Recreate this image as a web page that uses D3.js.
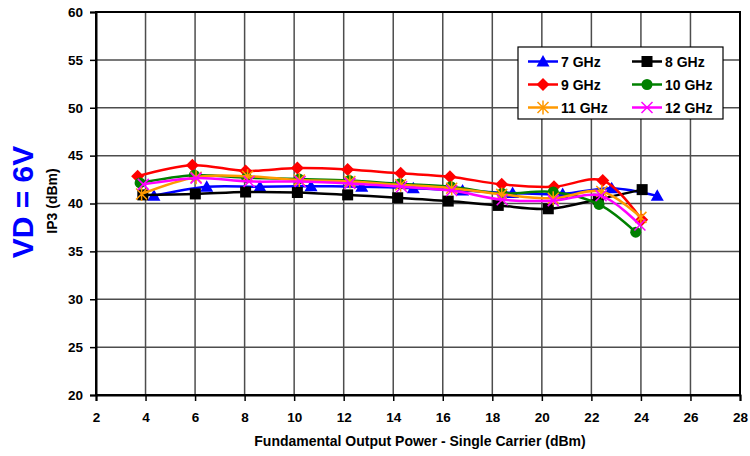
<!DOCTYPE html>
<html>
<head>
<meta charset="utf-8">
<script src="https://cdn.jsdelivr.net/npm/d3@7"></script>
<style>
  body { margin: 0; background: #fff; }
  svg { font-family: "Liberation Sans", Arial, sans-serif; font-weight: bold; }
</style>
</head>
<body>
<svg id="chart" width="750" height="456"></svg>
<script>
// values
const xTicks = [2, 4, 6, 8, 10, 12, 14, 16, 18, 20, 22, 24, 26, 28]
const yTicks = [20, 25, 30, 35, 40, 45, 50, 55, 60]

const ghz7 = [[4.34, 40.8], [6.47, 41.75], [8.62, 41.75], [10.68, 41.8], [12.73, 41.75], [14.81, 41.6], [16.8, 41.35], [18.82, 41.1], [20.84, 41.0], [22.82, 41.6], [24.66, 40.8]]
const ghz8 = [[3.89, 40.9], [6.01, 41.0], [8.04, 41.2], [10.13, 41.15], [12.16, 40.9], [14.18, 40.6], [16.22, 40.25], [18.24, 39.8], [20.26, 39.45], [22.28, 40.45], [24.05, 41.45]]
const ghz9 = [[3.68, 42.85], [5.89, 44.0], [8.04, 43.4], [10.13, 43.7], [12.16, 43.55], [14.3, 43.15], [16.29, 42.8], [18.38, 42.0], [20.49, 41.75], [22.46, 42.4], [24.03, 38.3]]
const ghz10 = [[3.78, 42.15], [5.97, 42.95], [8.08, 42.7], [10.2, 42.55], [12.23, 42.4], [14.27, 42.05], [16.33, 41.75], [18.4, 41.05], [20.46, 41.2], [22.31, 39.9], [23.79, 37.0]]
const ghz11 = [[3.84, 41.0], [6.04, 42.75], [8.12, 42.85], [10.21, 42.45], [12.25, 42.3], [14.3, 41.95], [16.36, 41.6], [18.38, 40.95], [20.46, 40.55], [22.42, 41.25], [24.0, 38.55]]
const ghz12 = [[3.91, 42.0], [6.04, 42.65], [8.18, 42.3], [10.24, 42.3], [12.25, 42.1], [14.34, 41.75], [16.36, 41.35], [18.4, 40.4], [20.46, 40.3], [22.39, 40.8], [23.96, 37.75]]

const series = [
  { name: '7 GHz', data: ghz7, color: '#0000ff', marker: 'triangle' },
  { name: '8 GHz', data: ghz8, color: '#000000', marker: 'square' },
  { name: '9 GHz', data: ghz9, color: '#ff0000', marker: 'diamond' },
  { name: '10 GHz', data: ghz10, color: '#008000', marker: 'circle' },
  { name: '11 GHz', data: ghz11, color: '#ff9900', marker: 'asterisk' },
  { name: '12 GHz', data: ghz12, color: '#ff00ff', marker: 'cross' }
]

const svg = d3.select('#chart')
const plotLeft = 96, plotRight = 740, plotTop = 12, plotBottom = 395

const x = d3.scaleLinear().domain([2, 28]).range([plotLeft, plotRight])
const y = d3.scaleLinear().domain([20, 60]).range([plotBottom, plotTop])

// grid
svg.append('g').selectAll('line')
  .data(xTicks.slice(1))
  .enter().append('line')
  .attr('x1', (d)=> x(d)).attr('x2', (d)=> x(d))
  .attr('y1', plotTop).attr('y2', plotBottom)
  .attr('stroke', '#4d4d4d').attr('stroke-width', 1.5)

svg.append('g').selectAll('line')
  .data(yTicks.slice(1))
  .enter().append('line')
  .attr('x1', plotLeft).attr('x2', plotRight)
  .attr('y1', (d)=> y(d)).attr('y2', (d)=> y(d))
  .attr('stroke', '#4d4d4d').attr('stroke-width', 1.5)

svg.append('rect')
  .attr('x', plotLeft).attr('y', plotTop)
  .attr('width', plotRight - plotLeft).attr('height', plotBottom - plotTop)
  .attr('fill', 'none').attr('stroke', '#000').attr('stroke-width', 2)

// axes
const xAxis = svg.append('g')
  .attr('transform', `translate(0,${plotBottom})`)
  .call(d3.axisBottom(x).tickValues(xTicks).tickSize(6).tickPadding(11))
const yAxis = svg.append('g')
  .attr('transform', `translate(${plotLeft},0)`)
  .call(d3.axisLeft(y).tickValues(yTicks).tickSize(6).tickPadding(7))

;[xAxis, yAxis].forEach((a)=> {
  a.select('.domain').attr('stroke', '#000').attr('stroke-width', 2)
  a.selectAll('.tick line').attr('stroke', '#000').attr('stroke-width', 1.5)
  a.selectAll('.tick text')
    .attr('fill', '#000')
    .style('font-size', '13.5px')
    .style('font-family', '"Liberation Sans", Arial, sans-serif')
    .style('font-weight', 'bold')
})

// titles
svg.append('text')
  .attr('x', 420).attr('y', 446)
  .attr('text-anchor', 'middle')
  .style('font-size', '14px')
  .text('Fundamental Output Power - Single Carrier (dBm)')

svg.append('text')
  .attr('transform', 'translate(57,201) rotate(-90)')
  .attr('text-anchor', 'middle')
  .style('font-size', '14px')
  .text('IP3 (dBm)')

svg.append('text')
  .attr('transform', 'translate(33,202) rotate(-90)')
  .attr('text-anchor', 'middle')
  .attr('fill', '#0000ff')
  .style('font-size', '30px')
  .text('VD = 6V')

// markers
function drawMarker(g, kind, color) {
  if (kind === 'triangle')
    g.append('path').attr('d', 'M0,-6.5 L6.5,5 L-6.5,5 Z').attr('fill', color)
  else if (kind === 'square')
    g.append('rect').attr('x', -5.5).attr('y', -5.5).attr('width', 11).attr('height', 11).attr('fill', color)
  else if (kind === 'diamond')
    g.append('path').attr('d', 'M0,-6.5 L6.5,0 L0,6.5 L-6.5,0 Z').attr('fill', color)
  else if (kind === 'circle')
    g.append('circle').attr('r', 5.5).attr('fill', color)
  else if (kind === 'asterisk')
    g.append('path').attr('d', 'M-5.5,-5.5 L5.5,5.5 M-5.5,5.5 L5.5,-5.5 M0,-7 L0,7')
      .attr('stroke', color).attr('stroke-width', 1.5).attr('fill', 'none')
  else if (kind === 'cross')
    g.append('path').attr('d', 'M-5.5,-5.5 L5.5,5.5 M-5.5,5.5 L5.5,-5.5')
      .attr('stroke', color).attr('stroke-width', 1.5).attr('fill', 'none')
}

const line = d3.line()
  .x((d)=> x(d[0]))
  .y((d)=> y(d[1]))
  .curve(d3.curveCatmullRom.alpha(0.5))

series.forEach((s)=> {
  const g = svg.append('g')
  g.append('path')
    .attr('d', line(s.data))
    .attr('fill', 'none')
    .attr('stroke', s.color)
    .attr('stroke-width', 2.5)
  g.selectAll('.m')
    .data(s.data)
    .enter().append('g')
    .attr('transform', (d)=> `translate(${x(d[0])},${y(d[1])})`)
    .each(function() { drawMarker(d3.select(this), s.marker, s.color) })
})

// legend
const lg = svg.append('g')
lg.append('rect')
  .attr('x', 518).attr('y', 47).attr('width', 205).attr('height', 72)
  .attr('fill', '#fff').attr('stroke', '#000').attr('stroke-width', 1.2)

series.forEach((s, i)=> {
  const col = i % 2, row = Math.floor(i / 2)
  const lx = 528 + col * 104
  const ly = 61.5 + row * 23
  const item = lg.append('g')
  item.append('line')
    .attr('x1', lx).attr('x2', lx + 30)
    .attr('y1', ly).attr('y2', ly)
    .attr('stroke', s.color).attr('stroke-width', 2.5)
  const m = item.append('g').attr('transform', `translate(${lx + 15},${ly})`)
  drawMarker(m, s.marker, s.color)
  item.append('text')
    .attr('x', lx + 33).attr('y', ly + 5)
    .style('font-size', '14px')
    .text(s.name)
})
</script>
</body>
</html>
